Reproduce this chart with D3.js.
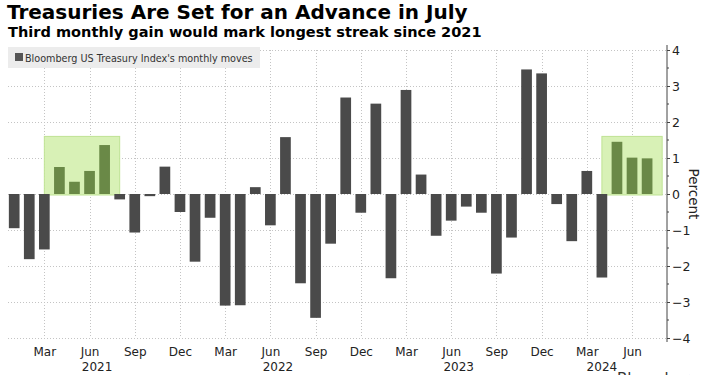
<!DOCTYPE html>
<html>
<head>
<meta charset="utf-8">
<script src="https://cdn.jsdelivr.net/npm/d3@7"></script>
<style>
  html, body { margin: 0; padding: 0; background: #fff; }
  svg { display: block; }
  text { font-family: "DejaVu Sans", Verdana, sans-serif; }
</style>
</head>
<body>
<svg id="chart" width="711" height="375"></svg>
<script>
// ---- Data ----
const months = [
  "2021-01","2021-02","2021-03","2021-04","2021-05","2021-06","2021-07","2021-08","2021-09","2021-10","2021-11","2021-12",
  "2022-01","2022-02","2022-03","2022-04","2022-05","2022-06","2022-07","2022-08","2022-09","2022-10","2022-11","2022-12",
  "2023-01","2023-02","2023-03","2023-04","2023-05","2023-06","2023-07","2023-08","2023-09","2023-10","2023-11","2023-12",
  "2024-01","2024-02","2024-03","2024-04","2024-05","2024-06","2024-07"
];
const monthlyMoves = [
  -0.95, -1.81, -1.54, 0.75, 0.34, 0.64, 1.36, -0.15, -1.07, -0.06, 0.76, -0.50,
  -1.88, -0.66, -3.10, -3.09, 0.19, -0.87, 1.58, -2.48, -3.44, -1.38, 2.68, -0.52,
  2.51, -2.34, 2.89, 0.54, -1.16, -0.74, -0.35, -0.52, -2.21, -1.21, 3.46, 3.35,
  -0.28, -1.31, 0.64, -2.32, 1.45, 1.01, 0.99
];
const highlightedMonths = ["2021-04","2021-05","2021-06","2021-07","2024-05","2024-06","2024-07"];
const highlightStarts = ["2021-03", "2024-04"];
const highlightEnds   = ["2021-08", "2024-08"];
const highlightTop = 1.6;
const yTicks = [-4, -3, -2, -1, 0, 1, 2, 3, 4];
const yMinorTicks = [-3.5, -2.5, -1.5, -0.5, 0.5, 1.5, 2.5, 3.5];
const years = ["2021", "2022", "2023", "2024"];
const title = "Treasuries Are Set for an Advance in July";
const subtitle = "Third monthly gain would mark longest streak since 2021";
const legendLabel = "Bloomberg US Treasury Index's monthly moves";
const yLabel = "Percent";
const sourceLabel = "Bloomberg";

// ---- Layout ----
const svg = d3.select("#chart");
const plotLeft = 8, plotRight = 667, plotTop = 50, plotBottom = 338;
const monthIndex = m => { const [yy, mm] = m.split("-").map(Number); return (yy - 2021) * 12 + (mm - 1); };

const x = d3.scaleLinear().domain([0, months.length - 1]).range([14.2, 647.1]);
const y = d3.scaleLinear().domain([-4, 4]).range([plotBottom, plotTop]);
const barW = 10.7;

function fitText(sel, size, targetW) {
  sel.attr("font-size", size);
  const w = sel.node().getComputedTextLength();
  sel.attr("font-size", size * targetW / w);
}

// Title
fitText(svg.append("text").attr("x", 7).attr("y", 19)
  .attr("font-weight", "bold").attr("fill", "#000").text(title), 18, 461);
fitText(svg.append("text").attr("x", 8).attr("y", 37)
  .attr("font-weight", "bold").attr("fill", "#000").text(subtitle), 14, 474);

// Gridlines
const grid = svg.append("g");
grid.selectAll("line.h").data(yTicks).join("line")
  .attr("x1", plotLeft).attr("x2", plotRight)
  .attr("y1", d => y(d)).attr("y2", d => y(d))
  .attr("stroke", "#c4c4c4").attr("stroke-width", 1).attr("stroke-dasharray", "1,2")
  .attr("shape-rendering", "crispEdges");

const quarterMonths = months.filter(m => [3, 6, 9, 12].includes(+m.split("-")[1]));
grid.selectAll("line.v").data(quarterMonths).join("line")
  .attr("x1", d => Math.round(x(monthIndex(d))) + 0.5).attr("x2", d => Math.round(x(monthIndex(d))) + 0.5)
  .attr("y1", plotTop).attr("y2", plotBottom)
  .attr("stroke", "#c4c4c4").attr("stroke-width", 1).attr("stroke-dasharray", "1,2");

// Legend
svg.append("rect").attr("x", 8).attr("y", 47).attr("width", 252).attr("height", 21).attr("fill", "#ececec");
svg.append("rect").attr("x", 15).attr("y", 53).attr("width", 8).attr("height", 8).attr("fill", "#555");
fitText(svg.append("text").attr("x", 25).attr("y", 61.5).attr("fill", "#333").text(legendLabel), 10, 228);

// Highlight boxes
svg.append("g").selectAll("rect").data(highlightStarts.map((s, i) => [s, highlightEnds[i]])).join("rect")
  .attr("x", d => x(monthIndex(d[0])))
  .attr("width", d => x(monthIndex(d[1])) - x(monthIndex(d[0])))
  .attr("y", y(highlightTop))
  .attr("height", y(0) - y(highlightTop) + 1)
  .attr("fill", "#d8f1b6").attr("stroke", "#bfe394").attr("stroke-width", 1);

// Bars
svg.append("g").selectAll("rect").data(months.map((m, i) => ({ m, v: monthlyMoves[i] }))).join("rect")
  .attr("x", d => x(monthIndex(d.m)) - barW / 2)
  .attr("width", barW)
  .attr("y", d => y(Math.max(0, d.v)))
  .attr("height", d => Math.abs(y(d.v) - y(0)))
  .attr("fill", d => highlightedMonths.includes(d.m) ? "#6a8947" : "#4a4a4a");

// Right axis
const axis = svg.append("g").attr("transform", `translate(${plotRight},0)`)
  .call(d3.axisRight(y).tickValues(yTicks).tickSize(3).tickPadding(2).tickFormat(d3.format("d")));
axis.select(".domain").attr("d", `M0,45V342`).attr("stroke", "#444");
axis.selectAll(".tick line").attr("stroke", "#444");
axis.selectAll(".tick text").attr("font-size", 12.5).attr("fill", "#222")
  .attr("font-family", "'DejaVu Sans', Verdana, sans-serif");
svg.append("g").attr("transform", `translate(${plotRight},0)`)
  .selectAll("line").data(yMinorTicks).join("line")
  .attr("x1", 0).attr("x2", 2).attr("y1", d => y(d)).attr("y2", d => y(d)).attr("stroke", "#444");

svg.append("text").attr("transform", `translate(689,194) rotate(90)`)
  .attr("text-anchor", "middle").attr("font-size", 13.5).attr("fill", "#222").text(yLabel);

// X month labels
const monthNameOf = m => ["Jan","Feb","Mar","Apr","May","Jun","Jul","Aug","Sep","Oct","Nov","Dec"][+m.split("-")[1] - 1];
svg.append("g").selectAll("text").data(quarterMonths).join("text")
  .attr("x", d => x(monthIndex(d)) + 0.5).attr("y", 356)
  .attr("text-anchor", "middle").attr("font-size", 12).attr("fill", "#222")
  .text(d => monthNameOf(d));

// Year labels centered on each year's visible months
svg.append("g").selectAll("text").data(years).join("text")
  .attr("x", yr => {
    const idx = months.filter(m => m.startsWith(yr)).map(monthIndex);
    return (x(d3.min(idx)) + x(d3.max(idx))) / 2;
  })
  .attr("y", 371).attr("text-anchor", "middle").attr("font-size", 12).attr("fill", "#222")
  .text(d => d);

// Source (partly below the bottom edge, as in the reference)
svg.append("text").attr("x", 617).attr("y", 384).attr("font-size", 15).attr("fill", "#333").text(sourceLabel);
</script>
</body>
</html>
